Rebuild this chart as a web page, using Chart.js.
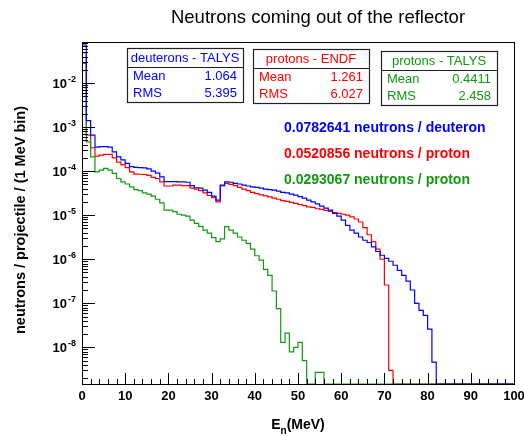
<!DOCTYPE html>
<html>
<head>
<meta charset="utf-8">
<script src="https://cdn.jsdelivr.net/npm/chart.js@4.4.0/dist/chart.umd.min.js"></script>
<style>
  html, body { margin: 0; padding: 0; background: #fff; }
</style>
</head>
<body>
<canvas id="chart" width="524" height="437"></canvas>
<script>
// 1 MeV bins, 0..100 MeV (low edges)
const binEdges = Array.from({ length: 101 }, (_, i) => i);

// neutrons / projectile / (1 MeV bin)
const deuteronTalys = [
    7.3e-2, 1.4e-3, 6.6e-4, 3.5e-4, 3.6e-4, 3.6e-4, 3.5e-4, 2.75e-4, 2.1e-4, 1.8e-4,
    1.5e-4, 1.26e-4, 1.22e-4, 1.2e-4, 1.18e-4, 1.12e-4, 1.0e-4, 9.0e-5, 7.4e-5, 5.8e-5,
    5.8e-5, 5.8e-5, 5.7e-5, 5.7e-5, 5.6e-5, 4.7e-5, 4.2e-5, 4.1e-5, 3.7e-5, 3.3e-5,
    2.7e-5, 2.2e-5, 4.8e-5, 5.7e-5, 5.6e-5, 5.3e-5, 5.1e-5, 4.8e-5, 4.6e-5, 4.4e-5,
    4.3e-5, 4.1e-5, 3.9e-5, 3.8e-5, 3.7e-5, 3.5e-5, 3.3e-5, 3.2e-5, 3.0e-5, 2.85e-5,
    2.65e-5, 2.45e-5, 2.2e-5, 2.0e-5, 1.8e-5, 1.6e-5, 1.45e-5, 1.3e-5, 1.1e-5, 9.5e-6,
    7.7e-6, 5.9e-6, 4.6e-6, 3.9e-6, 3.2e-6, 2.7e-6, 2.4e-6, 1.9e-6, 1.5e-6, 1.23e-6,
    1.05e-6, 9.0e-7, 7.3e-7, 5.6e-7, 4.3e-7, 3.2e-7, 2.0e-7, 1.0e-7, 6.9e-8, 5.3e-8,
    2.6e-8, 4.6e-9, 0, 0, 0, 0, 0, 0, 0, 0,
    0, 0, 0, 0, 0, 0, 0, 0, 0, 0
];
const protonEndf = [
    4.9e-2, 6.6e-4, 3.4e-4, 2.2e-4, 2.3e-4, 2.4e-4, 2.4e-4, 2.0e-4, 1.6e-4, 1.4e-4,
    1.2e-4, 9.6e-5, 8.6e-5, 8.5e-5, 8.4e-5, 8.0e-5, 7.2e-5, 6.8e-5, 5.7e-5, 4.6e-5,
    4.6e-5, 4.8e-5, 4.8e-5, 4.7e-5, 4.7e-5, 4.1e-5, 3.9e-5, 3.6e-5, 3.2e-5, 2.8e-5,
    2.5e-5, 2.0e-5, 4.6e-5, 5.3e-5, 5.0e-5, 4.7e-5, 4.3e-5, 3.9e-5, 3.6e-5, 3.3e-5,
    3.1e-5, 2.9e-5, 2.75e-5, 2.6e-5, 2.45e-5, 2.3e-5, 2.15e-5, 2.05e-5, 1.95e-5, 1.85e-5,
    1.75e-5, 1.65e-5, 1.55e-5, 1.5e-5, 1.4e-5, 1.35e-5, 1.28e-5, 1.22e-5, 1.15e-5, 1.1e-5,
    1.05e-5, 1.0e-5, 9.2e-6, 8.2e-6, 7.0e-6, 5.2e-6, 3.6e-6, 2.5e-6, 1.7e-6, 1.0e-6,
    2.6e-7, 3.0e-9, 0, 0, 0, 0, 0, 0, 0, 0,
    0, 0, 0, 0, 0, 0, 0, 0, 0, 0,
    0, 0, 0, 0, 0, 0, 0, 0, 0, 0
];
const protonTalys = [
    2.8e-2, 4.6e-4, 2.1e-4, 9.6e-5, 1.05e-4, 1.15e-4, 1.05e-4, 8.9e-5, 6.8e-5, 5.7e-5,
    5.1e-5, 4.4e-5, 3.8e-5, 3.6e-5, 3.2e-5, 3.0e-5, 2.7e-5, 2.3e-5, 1.9e-5, 1.3e-5,
    1.3e-5, 1.2e-5, 1.05e-5, 1.0e-5, 9.5e-6, 7.7e-6, 6.5e-6, 5.6e-6, 4.6e-6, 3.9e-6,
    3.1e-6, 2.5e-6, 2.9e-6, 5.5e-6, 4.6e-6, 3.9e-6, 3.2e-6, 2.7e-6, 2.3e-6, 1.7e-6,
    1.2e-6, 9.5e-7, 5.9e-7, 4.3e-7, 1.9e-7, 7.6e-8, 1.3e-8, 2.1e-8, 7.9e-9, 1.0e-8,
    1.3e-8, 5.0e-9, 0, 0, 2.7e-9, 2.7e-9, 0, 0, 0, 0,
    0, 0, 0, 0, 0, 0, 0, 0, 0, 0,
    0, 0, 0, 0, 0, 0, 0, 0, 0, 0,
    0, 0, 0, 0, 0, 0, 0, 0, 0, 0,
    0, 0, 0, 0, 0, 0, 0, 0, 0, 0
];

const xTicks = [0, 10, 20, 30, 40, 50, 60, 70, 80, 90, 100];
const yTickExps = [-2, -3, -4, -5, -6, -7, -8];

const statBoxes = [
    { title: 'deuterons - TALYS', mean: '1.064', rms: '5.395', color: '#0000ff' },
    { title: 'protons - ENDF', mean: '1.261', rms: '6.027', color: '#ff0000' },
    { title: 'protons - TALYS', mean: '0.4411', rms: '2.458', color: '#109a10' }
];
const yieldLines = [
    { text: '0.0782641 neutrons / deuteron', color: '#0000ff' },
    { text: '0.0520856 neutrons / proton', color: '#ff0000' },
    { text: '0.0293067 neutrons / proton', color: '#109a10' }
];

const Y_MIN = 1.47e-9;
const Y_MAX = 0.0855;
const FONT = '"Liberation Sans", Arial, Helvetica, sans-serif';

// empty bins are drawn on the bottom of the frame, like ROOT does
function histPoints(vals) {
    return binEdges.map((x, i) => ({ x, y: Math.max(vals[Math.min(i, vals.length - 1)], Y_MIN) }));
}

function histDataset(label, vals, color) {
    return {
        label,
        data: histPoints(vals),
        borderColor: color,
        borderWidth: 1.2,
        pointRadius: 0,
        stepped: 'before',
        fill: false,
        clip: 2
    };
}

const decorPlugin = {
    id: 'rootDecor',
    afterDraw(chart) {
        const ctx = chart.ctx;
        const a = chart.chartArea;
        const xs = chart.scales.x;
        const ys = chart.scales.y;
        ctx.save();

        // frame
        ctx.strokeStyle = '#000';
        ctx.lineWidth = 1;
        ctx.strokeRect(a.left + 0.5, a.top + 0.5, a.right - a.left, a.bottom - a.top);

        // x ticks (inside)
        ctx.beginPath();
        for (let v = 0; v <= 100; v += 2) {
            const px = Math.round(xs.getPixelForValue(v)) + 0.5;
            const len = v % 10 === 0 ? 11 : 5;
            ctx.moveTo(px, a.bottom);
            ctx.lineTo(px, a.bottom - len);
        }
        // y ticks (log, inside)
        for (let k = -9; k <= -1; k++) {
            for (let m = 1; m <= 9; m++) {
                const v = m * Math.pow(10, k);
                if (v < Y_MIN || v > Y_MAX) continue;
                const py = Math.round(ys.getPixelForValue(v)) + 0.5;
                const len = m === 1 ? 13 : 6;
                ctx.moveTo(a.left, py);
                ctx.lineTo(a.left + len, py);
            }
        }
        ctx.stroke();

        // x tick labels
        ctx.fillStyle = '#000';
        ctx.font = 'bold 13px ' + FONT;
        ctx.textAlign = 'center';
        ctx.textBaseline = 'middle';
        xTicks.forEach(v => ctx.fillText(String(v), xs.getPixelForValue(v), 396));

        // y tick labels 10^k
        yTickExps.forEach(k => {
            const py = ys.getPixelForValue(Math.pow(10, k));
            ctx.font = 'bold 13px ' + FONT;
            ctx.textAlign = 'right';
            ctx.textBaseline = 'middle';
            ctx.fillText('10', 67, py + 1);
            ctx.font = 'bold 9px ' + FONT;
            ctx.textAlign = 'left';
            ctx.fillText(String(k), 68, py - 4);
        });

        // x axis title E_n(MeV)
        ctx.textBaseline = 'alphabetic';
        ctx.textAlign = 'left';
        ctx.font = 'bold 14px ' + FONT;
        const wE = ctx.measureText('E').width;
        const wRest = ctx.measureText('(MeV)').width;
        ctx.font = 'bold 10px ' + FONT;
        const wN = ctx.measureText('n').width;
        let tx = (a.left + a.right) / 2 - (wE + wN + wRest) / 2;
        ctx.font = 'bold 14px ' + FONT;
        ctx.fillText('E', tx, 429);
        ctx.font = 'bold 10px ' + FONT;
        ctx.fillText('n', tx + wE, 434);
        ctx.font = 'bold 14px ' + FONT;
        ctx.fillText('(MeV)', tx + wE + wN, 429);

        // y axis title
        ctx.save();
        ctx.translate(21, 220);
        ctx.rotate(-Math.PI / 2);
        ctx.textAlign = 'center';
        ctx.textBaseline = 'middle';
        ctx.font = 'bold 14.5px ' + FONT;
        ctx.fillText('neutrons / projectile / (1 MeV bin)', 0, 0);
        ctx.restore();

        // title
        ctx.font = '18.5px ' + FONT;
        ctx.textAlign = 'center';
        ctx.textBaseline = 'middle';
        ctx.fillText('Neutrons coming out of the reflector', 318, 18);

        // stat boxes
        const boxX = [127, 253, 381];
        const boxY = [48, 49, 51];
        statBoxes.forEach((b, i) => {
            const x0 = boxX[i], y0 = boxY[i], w = 116, h = 54;
            ctx.fillStyle = '#fff';
            ctx.fillRect(x0, y0, w, h);
            ctx.strokeStyle = '#222';
            ctx.lineWidth = 1.2;
            ctx.strokeRect(x0 + 0.5, y0 + 0.5, w, h);
            ctx.beginPath();
            ctx.moveTo(x0, y0 + 19.5);
            ctx.lineTo(x0 + w, y0 + 19.5);
            ctx.stroke();
            ctx.fillStyle = b.color;
            ctx.font = '13px ' + FONT;
            ctx.textBaseline = 'middle';
            ctx.textAlign = 'center';
            ctx.fillText(b.title, x0 + w / 2, y0 + 10.5);
            ctx.textAlign = 'left';
            ctx.fillText('Mean', x0 + 6, y0 + 28);
            ctx.fillText('RMS', x0 + 6, y0 + 45);
            ctx.textAlign = 'right';
            ctx.fillText(b.mean, x0 + w - 6, y0 + 28);
            ctx.fillText(b.rms, x0 + w - 6, y0 + 45);
        });

        // neutron yields
        ctx.font = 'bold 14px ' + FONT;
        ctx.textAlign = 'left';
        ctx.textBaseline = 'middle';
        yieldLines.forEach((l, i) => {
            ctx.fillStyle = l.color;
            ctx.fillText(l.text, 284, 128 + i * 26);
        });

        ctx.restore();
    }
};

new Chart(document.getElementById('chart'), {
    type: 'line',
    data: {
        datasets: [
            histDataset('deuterons - TALYS', deuteronTalys, '#0000ff'),
            histDataset('protons - TALYS', protonTalys, '#109a10'),
            histDataset('protons - ENDF', protonEndf, '#ff0000')
        ]
    },
    options: {
        responsive: false,
        animation: false,
        layout: { padding: { left: 82, right: 10, top: 42, bottom: 53 } },
        plugins: {
            legend: { display: false },
            tooltip: { enabled: false }
        },
        scales: {
            x: { type: 'linear', min: 0, max: 100, display: false },
            y: { type: 'logarithmic', min: Y_MIN, max: Y_MAX, display: false }
        }
    },
    plugins: [decorPlugin]
});
</script>
</body>
</html>
